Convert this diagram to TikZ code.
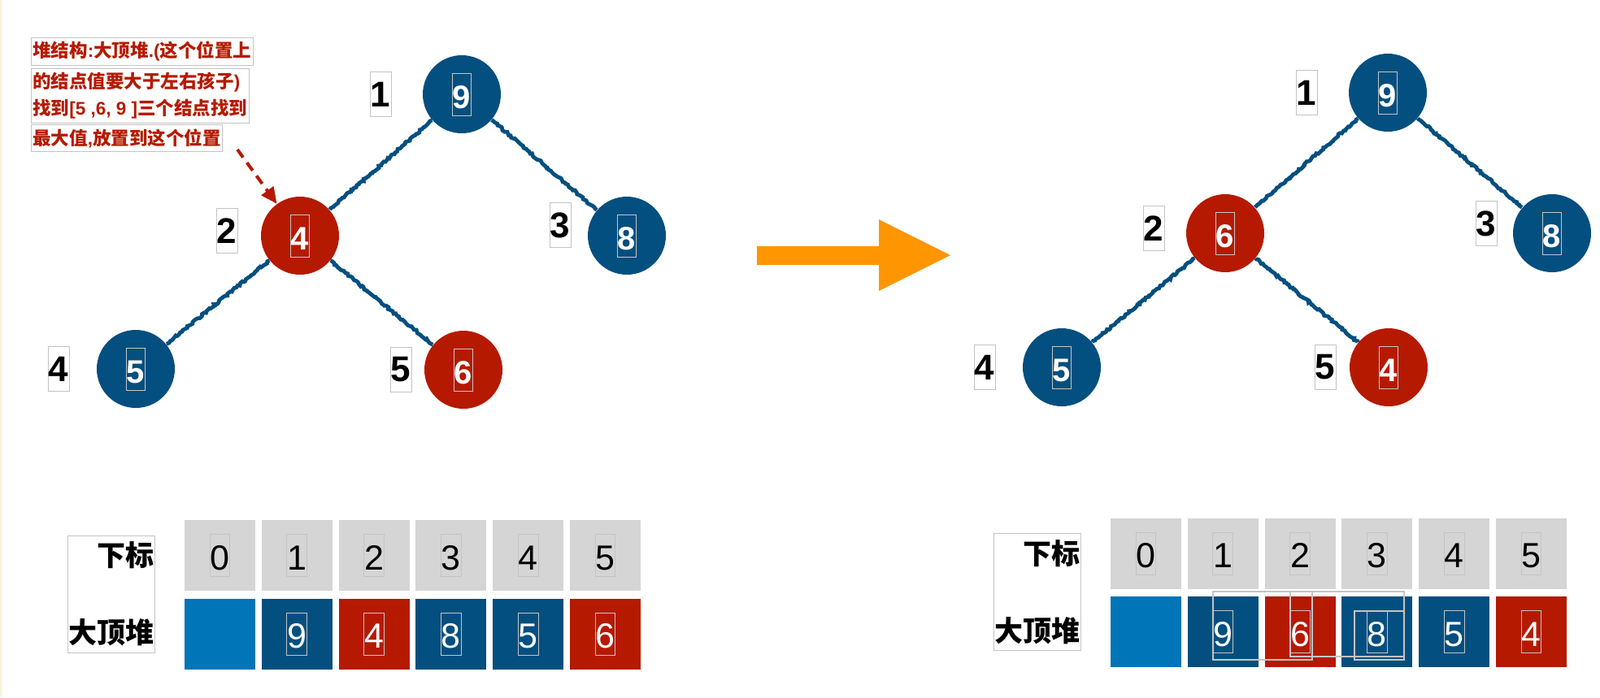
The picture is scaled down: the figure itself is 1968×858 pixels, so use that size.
\documentclass[tikz,border=0pt]{standalone}
\usepackage{fontspec}
\setmainfont{Liberation Sans}
\newfontfamily\cjk{Noto Sans CJK SC}
\usepackage{tikz}
\usetikzlibrary{arrows.meta, positioning, decorations.pathmorphing}
\usepackage{xcolor}

\definecolor{hblue}{HTML}{034F7F}
\definecolor{hred}{HTML}{B51A00}
\definecolor{cellblue}{HTML}{0075B8}
\definecolor{cellgray}{HTML}{D5D5D5}
\definecolor{framegray}{HTML}{C4C4C4}
\definecolor{swaporange}{HTML}{FF9500}
\definecolor{edgeyellow}{HTML}{FCF3DA}

% thin grey frame round a digit, as the slide shows it
\newcommand{\numbox}[2]{\textcolor{framegray}{\fboxsep=0pt\fboxrule=0.5pt\fbox{\textcolor{#1}{\rule[-4pt]{0pt}{25.5pt}#2}}}}
% chinese run inside latin text
\newcommand{\zh}[1]{{\cjk #1}}

\begin{document}
\begin{tikzpicture}[
    x=0.5pt, y=-0.5pt,
    heapnode/.style={circle, minimum size=48pt, inner sep=0pt,
                     font=\fontsize{20}{24}\selectfont\bfseries},
    bluenode/.style={heapnode, fill=hblue},
    rednode/.style={heapnode, fill=hred},
    idx/.style={draw=framegray, inner sep=0pt, minimum width=13pt,
                minimum height=27.5pt, font=\fontsize{22}{26}\selectfont\bfseries},
    link/.style={draw=hblue, line width=2.4pt, decorate,
                 decoration={random steps, segment length=1.2pt, amplitude=0.6pt}},
    anno/.style={draw=framegray, text=hred, inner xsep=1pt, inner ysep=2.4pt,
                 align=left, font=\bfseries\fontsize{11.25}{16.5}\selectfont},
    rowlabel/.style={draw=framegray, align=right, minimum width=53.5pt,
                     minimum height=72pt, inner sep=0.5pt,
                     font=\cjk\bfseries\fontsize{17.5}{47.5}\selectfont},
    cell/.style={minimum size=43.5pt, inner sep=0pt, font=\fontsize{21.5}{24}\selectfont},
    keycell/.style={cell, fill=cellgray},
    bluecell/.style={cell, fill=hblue},
    redcell/.style={cell, fill=hred},
    emptycell/.style={cell, fill=cellblue},
    ghost/.style={draw=framegray, line width=0.6pt},
    dasharrow/.style={-{Triangle[length=10pt, width=9pt]}, draw=hred,
                      line width=2pt, dash pattern=on 6pt off 4pt}
]
    \useasboundingbox (0,0) rectangle (1968,858);
    \fill[edgeyellow] (0,0) rectangle (3,858);

    % note on the left
    \node[anno, anchor=north west] (a1) at (38,46) {\zh{堆结构}:\zh{大顶堆}.(\zh{这个位置上}};
    \node[anno, below=1.5pt of a1.south west, anchor=north west] (a2)
        {\zh{的结点值要大于左右孩子})\\\zh{找到}[5 ,6, 9 ]\zh{三个结点找到}};
    \node[anno, below=1pt of a2.south west, anchor=north west] (a3) {\zh{最大值},\zh{放置到这个位置}};

    % heap before
    \node[bluenode] (l1) at (568,116) {\numbox{white}{9}};
    \node[rednode]  (l2) at (369,290) {\numbox{white}{4}};
    \node[bluenode] (l3) at (771,290) {\numbox{white}{8}};
    \node[bluenode] (l4) at (167,454) {\numbox{white}{5}};
    \node[rednode]  (l5) at (570,455) {\numbox{white}{6}};
    \node[idx, left=19pt of l1] (li1) {1};
    \node[idx, left=14pt of l2, yshift=3pt] (li2) {2};
    \node[idx, left=10pt of l3, yshift=6.5pt] (li3) {3};
    \node[idx, left=16.5pt of l4] (li4) {4};
    \node[idx, left=7.5pt of l5] (li5) {5};
    \draw[link] (l1) -- (l2);
    \draw[link] (l1) -- (l3);
    \draw[link] (l2) -- (l4);
    \draw[link] (l2) -- (l5);

    \coordinate (dstart) at (292,184);
    \draw[dasharrow] (dstart) -- (l2);

    % big arrow
    \fill[swaporange] (931,303) -- (1081,303) -- (1081,270) -- (1169,314)
        -- (1081,358) -- (1081,326) -- (931,326) -- cycle;

    % heap after
    \node[bluenode] (r1) at (1707,114) {\numbox{white}{9}};
    \node[rednode]  (r2) at (1507,287) {\numbox{white}{6}};
    \node[bluenode] (r3) at (1909,287) {\numbox{white}{8}};
    \node[bluenode] (r4) at (1306,452) {\numbox{white}{5}};
    \node[rednode]  (r5) at (1708,452) {\numbox{white}{4}};
    \node[idx, left=19pt of r1] (ri1) {1};
    \node[idx, left=13pt of r2, yshift=3pt] (ri2) {2};
    \node[idx, left=9.5pt of r3, yshift=6pt] (ri3) {3};
    \node[idx, left=16.5pt of r4] (ri4) {4};
    \node[idx, left=8pt of r5] (ri5) {5};
    \draw[link] (r1) -- (r2);
    \draw[link] (r1) -- (r3);
    \draw[link] (r2) -- (r4);
    \draw[link] (r2) -- (r5);

    % array before
    \node[rowlabel] (lrow) at (136.5,731) {下标\\大顶堆};
    \node[keycell] (lk0) at (270.5,683.5) {\numbox{black}{0}};
    \node[keycell, right=3.5pt of lk0] (lk1) {\numbox{black}{1}};
    \node[keycell, right=3.5pt of lk1] (lk2) {\numbox{black}{2}};
    \node[keycell, right=3.5pt of lk2] (lk3) {\numbox{black}{3}};
    \node[keycell, right=3.5pt of lk3] (lk4) {\numbox{black}{4}};
    \node[keycell, right=3.5pt of lk4] (lk5) {\numbox{black}{5}};
    \node[emptycell, below=4.5pt of lk0] (lv0) {};
    \node[bluecell, right=3.5pt of lv0] (lv1) {\numbox{white}{9}};
    \node[redcell,  right=3.5pt of lv1] (lv2) {\numbox{white}{4}};
    \node[bluecell, right=3.5pt of lv2] (lv3) {\numbox{white}{8}};
    \node[bluecell, right=3.5pt of lv3] (lv4) {\numbox{white}{5}};
    \node[redcell,  right=3.5pt of lv4] (lv5) {\numbox{white}{6}};

    % array after
    \node[rowlabel] (rrow) at (1275.5,728.5) {下标\\大顶堆};
    \node[keycell] (rk0) at (1409.5,681) {\numbox{black}{0}};
    \node[keycell, right=3.5pt of rk0] (rk1) {\numbox{black}{1}};
    \node[keycell, right=3.5pt of rk1] (rk2) {\numbox{black}{2}};
    \node[keycell, right=3.5pt of rk2] (rk3) {\numbox{black}{3}};
    \node[keycell, right=3.5pt of rk3] (rk4) {\numbox{black}{4}};
    \node[keycell, right=3.5pt of rk4] (rk5) {\numbox{black}{5}};
    \node[emptycell, below=4.5pt of rk0] (rv0) {};
    \node[bluecell, right=3.5pt of rv0] (rv1) {\numbox{white}{9}};
    \node[redcell,  right=3.5pt of rv1] (rv2) {\numbox{white}{6}};
    \node[bluecell, right=3.5pt of rv2] (rv3) {\numbox{white}{8}};
    \node[bluecell, right=3.5pt of rv3] (rv4) {\numbox{white}{5}};
    \node[redcell,  right=3.5pt of rv4] (rv5) {\numbox{white}{4}};
    \draw[ghost] (1492,728) rectangle (1614,812);
    \draw[ghost] (1587,728) rectangle (1727,808);
    \draw[ghost] (1666,752) rectangle (1727,812);
\end{tikzpicture}
\end{document}
